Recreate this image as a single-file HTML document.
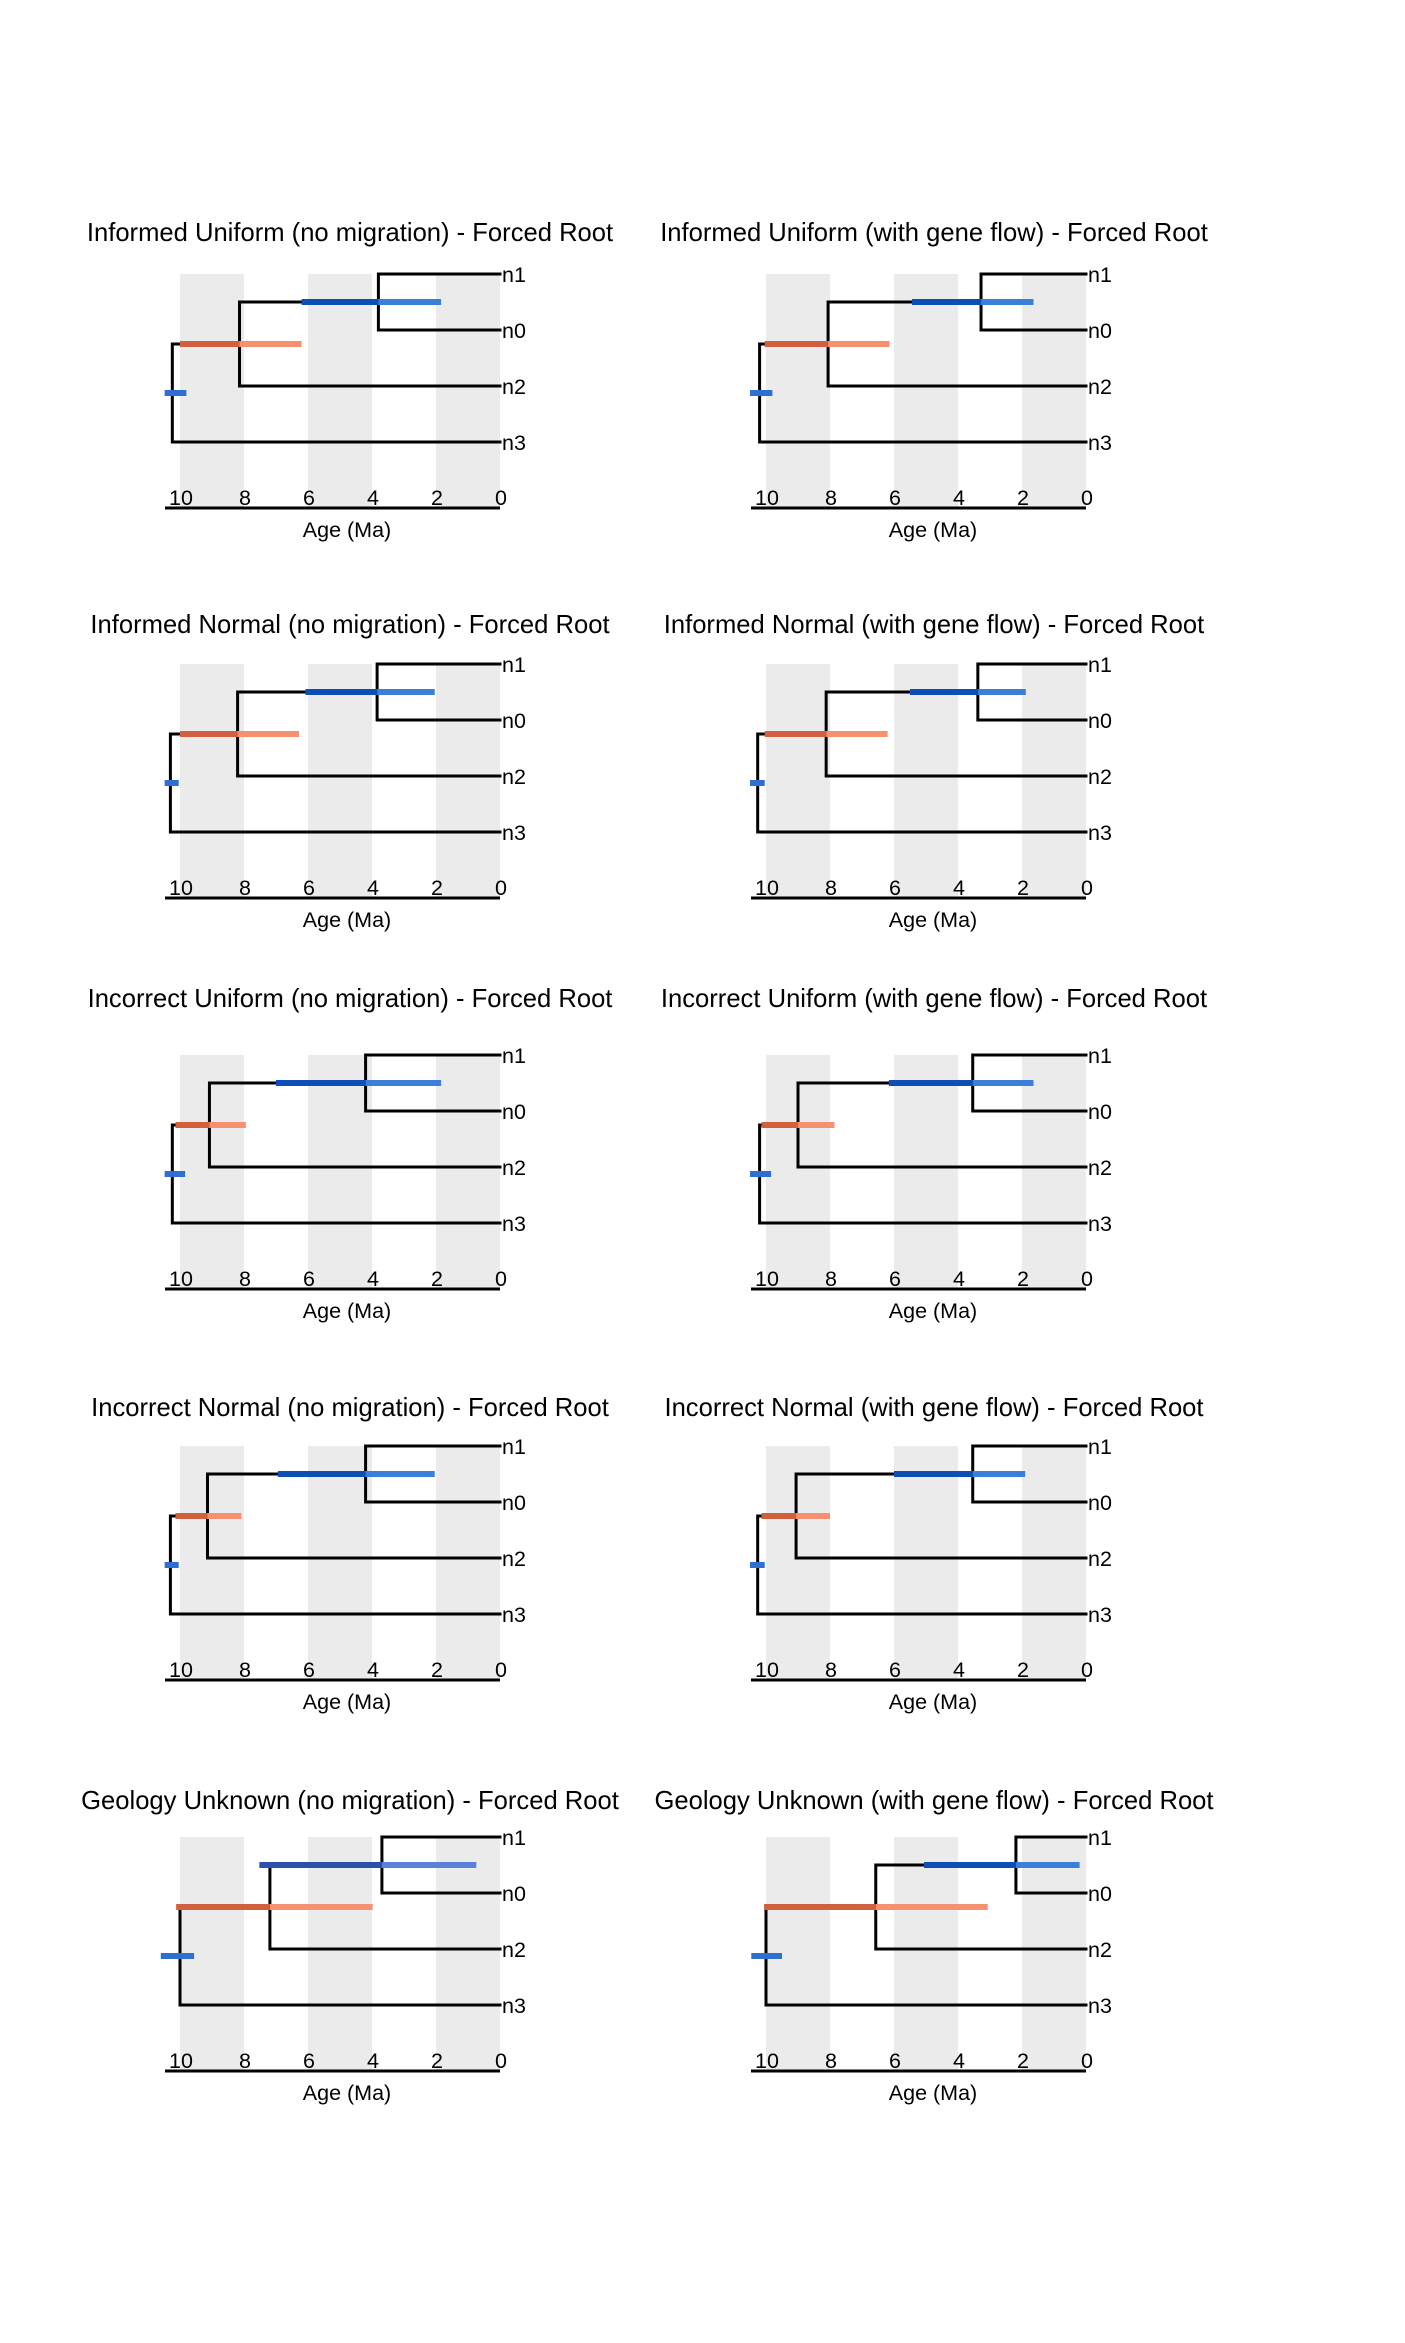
<!DOCTYPE html>
<html><head><meta charset="utf-8"><style>
html,body{margin:0;padding:0;background:#fff;}
svg{display:block;font-family:"Liberation Sans",Arial,sans-serif;}
</style></head><body>
<svg id="fig" width="1405" height="2343" viewBox="0 0 1405 2343"></svg>
<script>
const panelTitles = [
 "Informed Uniform (no migration) - Forced Root","Informed Uniform (with gene flow) - Forced Root",
 "Informed Normal (no migration) - Forced Root","Informed Normal (with gene flow) - Forced Root",
 "Incorrect Uniform (no migration) - Forced Root","Incorrect Uniform (with gene flow) - Forced Root",
 "Incorrect Normal (no migration) - Forced Root","Incorrect Normal (with gene flow) - Forced Root",
 "Geology Unknown (no migration) - Forced Root","Geology Unknown (with gene flow) - Forced Root"];
const tipLabels = ["n1","n0","n2","n3"];
const tickLabels = [10,8,6,4,2,0];
// node ages (Ma)
const rootAge = [10.24,10.2,10.3,10.26,10.24,10.2,10.3,10.26,10.0,10.0];
const nodeAAge = [8.14,8.06,8.2,8.12,9.08,9.0,9.14,9.06,7.19,6.57];
const nodeBAge = [3.8,3.28,3.84,3.38,4.2,3.54,4.2,3.54,3.69,2.19];
// HPD bars [old, young]
const rootHPD = [[10.48,9.8],[10.5,9.8],[10.48,10.04],[10.5,10.04],[10.48,9.84],[10.5,9.84],[10.48,10.04],[10.5,10.04],[10.6,9.56],[10.46,9.5]];
const nodeAHPD = [[10.0,6.2],[10.04,6.14],[10.0,6.28],[10.04,6.2],[10.14,7.94],[10.14,7.86],[10.14,8.08],[10.14,8.0],[10.12,3.98],[10.06,3.07]];
const nodeBHPD = [[6.2,1.84],[5.44,1.64],[6.08,2.04],[5.5,1.88],[7.0,1.84],[6.16,1.64],[6.94,2.04],[6.0,1.9],[7.52,0.74],[5.06,0.2]];

const NS="http://www.w3.org/2000/svg";
const svg=document.getElementById('fig');
function mk(tag,attrs,parent){const e=document.createElementNS(NS,tag);for(const k in attrs)e.setAttribute(k,attrs[k]);(parent||svg).appendChild(e);return e;}
const rowTop=[274,664,1055,1446,1837];
const titleOff=[42,40,57,39,37];
for(let p=0;p<10;p++){
 const r=Math.floor(p/2), c=p%2;
 const ox=c*586, top=rowTop[r];
 const xs=a=>ox+500-a*32;
 const tipY=i=>top+i*56;
 const g=mk('g',{});
 
 
 for(let b=0;b<3;b++){
  const band=mk('rect',{x:xs(10-4*b),y:top,width:64,height:234,fill:'#ebebeb'},g);
  
  
 }
 const t=mk('text',{x:ox+350+(c?-2:0),y:top-titleOff[r]+9,'text-anchor':'middle','font-size':25.6,fill:'#000'},g);
 t.textContent=panelTitles[p];
 
 
 const yB=(tipY(0)+tipY(1))/2, yA=(yB+tipY(2))/2, yR=(yA+tipY(3))/2;
 // tree
 const d=`M${xs(0)},${tipY(0)}H${xs(nodeBAge[p])}V${tipY(1)}H${xs(0)}`+
  `M${xs(nodeBAge[p])},${yB}H${xs(nodeAAge[p])}V${tipY(2)}H${xs(0)}`+
  `M${xs(nodeAAge[p])},${yA}H${xs(rootAge[p])}V${tipY(3)}H${xs(0)}`;
 const tr=mk('path',{d:d,fill:'none',stroke:'#000','stroke-width':3,'stroke-linejoin':'miter','stroke-linecap':'square'},g);
 
 
 // HPD bars (on top of branches)
 function bar(hpd,age,y,dark,light,name){
  const b1=mk('rect',{x:xs(hpd[0]),y:y-3,width:Math.max(0,xs(age)-xs(hpd[0])),height:6,fill:dark},g);
  
  
  const b2=mk('rect',{x:xs(age),y:y-3,width:Math.max(0,xs(hpd[1])-xs(age)),height:6,fill:light},g);
  
  
 }
 const purple=(p===8);
 bar(nodeAHPD[p],nodeAAge[p],yA,'#d0603f','#f6916f','node-a');
 bar(nodeBHPD[p],nodeBAge[p],yB,purple?'#2d4fae':'#0c50b6',purple?'#5a80d8':'#3a7fd8','node-b');
 const rb=mk('rect',{x:xs(rootHPD[p][0]),y:yR-3,width:xs(rootHPD[p][1])-xs(rootHPD[p][0]),height:6,fill:'#2e70d2'},g);
 
 
 tipLabels.forEach((l,i)=>{
  const tx=mk('text',{x:ox+502,y:tipY(i)+8,'font-size':21.5,fill:'#000'},g);
  tx.textContent=l;
  
  
 });
 const ax=mk('line',{x1:ox+165,x2:xs(0),y1:top+234,y2:top+234,stroke:'#000','stroke-width':3},g);
 
 
 tickLabels.forEach(v=>{
  const tk=mk('text',{x:xs(v)+1,y:top+231,'text-anchor':'middle','font-size':21.5,fill:'#000'},g);
  tk.textContent=v;
  
  
 });
 const at=mk('text',{x:ox+347,y:top+263,'text-anchor':'middle','font-size':21.5,fill:'#000'},g);
 at.textContent='Age (Ma)';
 
 
}
</script>
</body></html>
